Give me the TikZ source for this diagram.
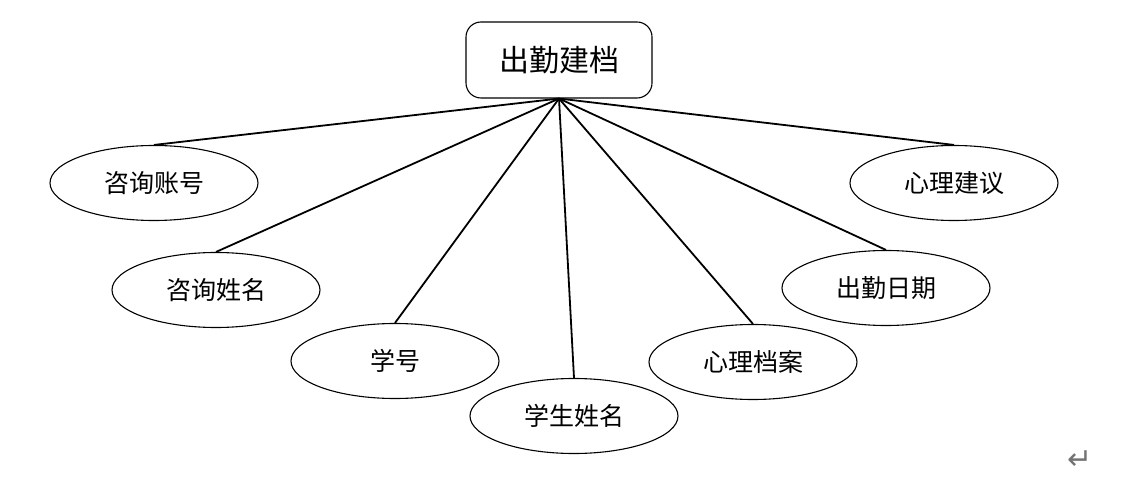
\documentclass[tikz,border=0pt]{standalone}
\usepackage{fontspec}
\setmainfont{Noto Sans CJK SC}
\newfontfamily\symfont{DejaVu Sans}
\usepackage{tikz}
\usetikzlibrary{shapes.geometric}

\begin{document}
\begin{tikzpicture}[
  x=1pt, y=-1pt,
  ent/.style={draw, rounded corners=15pt, line width=1.1pt, minimum width=186pt,
              minimum height=76pt, font=\fontsize{30}{33}\selectfont},
  attr/.style={draw, ellipse, line width=1.1pt, minimum width=208pt,
               minimum height=75pt, font=\fontsize{25}{28}\selectfont},
  link/.style={line width=1.8pt}
]
\useasboundingbox (0,0) rectangle (1124,494);

% ---------- entity ----------
\node[ent] (att) at (559,60) {出勤建档};

% ---------- attributes ----------
\node[attr] (acc)  at (154,183) {咨询账号};
\node[attr] (cnm)  at (216,290) {咨询姓名};
\node[attr] (sno)  at (395,361) {学号};
\node[attr] (snm)  at (574,416) {学生姓名};
\node[attr] (rec)  at (753,362) {心理档案};
\node[attr] (date) at (886,288) {出勤日期};
\node[attr] (adv)  at (954,183) {心理建议};

% links
\foreach \a in {acc,cnm,sno,snm,rec,date,adv}
  \draw[link] (att.south) -- (\a.north);

% paragraph mark
\node[text=black!55, font=\symfont\fontsize{30}{32}\selectfont] (para) at (1080,460) {↵};

\end{tikzpicture}
\end{document}
